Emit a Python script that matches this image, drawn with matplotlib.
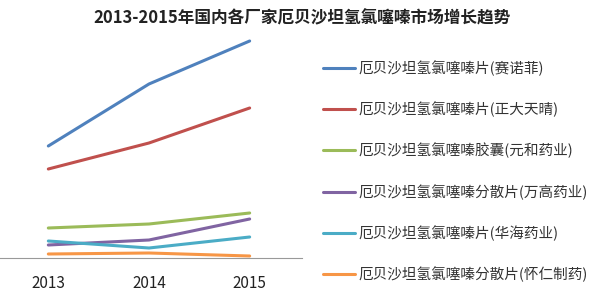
import matplotlib
matplotlib.use("Agg")
import matplotlib.pyplot as plt

plt.rcParams["font.family"] = ["Noto Sans CJK SC", "DejaVu Sans"]

# Data (arbitrary units, baseline = 0)
years = [2013, 2014, 2015]
series_names = [
    "厄贝沙坦氢氯噻嗪片(赛诺菲)",
    "厄贝沙坦氢氯噻嗪片(正大天晴)",
    "厄贝沙坦氢氯噻嗪胶囊(元和药业)",
    "厄贝沙坦氢氯噻嗪分散片(万高药业)",
    "厄贝沙坦氢氯噻嗪片(华海药业)",
    "厄贝沙坦氢氯噻嗪分散片(怀仁制药)",
]
sanofi = [112, 174, 217]
zhengda = [89, 115, 150]
yuanhe = [30, 34, 45]
wangao = [13, 18, 39]
huahai = [17, 10, 21]
huairen = [4, 5, 2]
colors = ["#4F81BD", "#C0504D", "#9BBB59", "#8064A2", "#4BACC6", "#F79646"]

fig = plt.figure(figsize=(6.04, 2.96), dpi=100)
ax = fig.add_axes([0, 38 / 296, 302 / 604, 228 / 296])

all_series = [sanofi, zhengda, yuanhe, wangao, huahai, huairen]
for vals, name, c in zip(all_series, series_names, colors):
    ax.plot(years, vals, color=c, linewidth=2.2, label=name, solid_capstyle="round")

ax.set_xlim(2012.52, 2015.52)
ax.set_ylim(0, 228)
ax.set_xticks(years)
ax.set_xticklabels([str(y) for y in years], fontsize=11, color="#222222")
ax.tick_params(axis="x", length=0, pad=12)
ax.set_yticks([])
for s in ["top", "right", "left"]:
    ax.spines[s].set_visible(False)
ax.spines["bottom"].set_color("#999999")
ax.spines["bottom"].set_linewidth(0.8)
ax.patch.set_alpha(0)

fig.text(0.5, 1 - 18 / 296, "2013-2015年国内各厂家厄贝沙坦氢氯噻嗪市场增长趋势",
         ha="center", va="center", fontsize=12, fontweight="bold", color="#222222")

fig.legend(loc="upper left", bbox_to_anchor=(310 / 604, 1 - 47 / 296),
           frameon=False, fontsize=10.5, handlelength=2.2, handletextpad=0.2,
           labelspacing=1.76, labelcolor="#333333")

fig.savefig("out.png", dpi=100)
